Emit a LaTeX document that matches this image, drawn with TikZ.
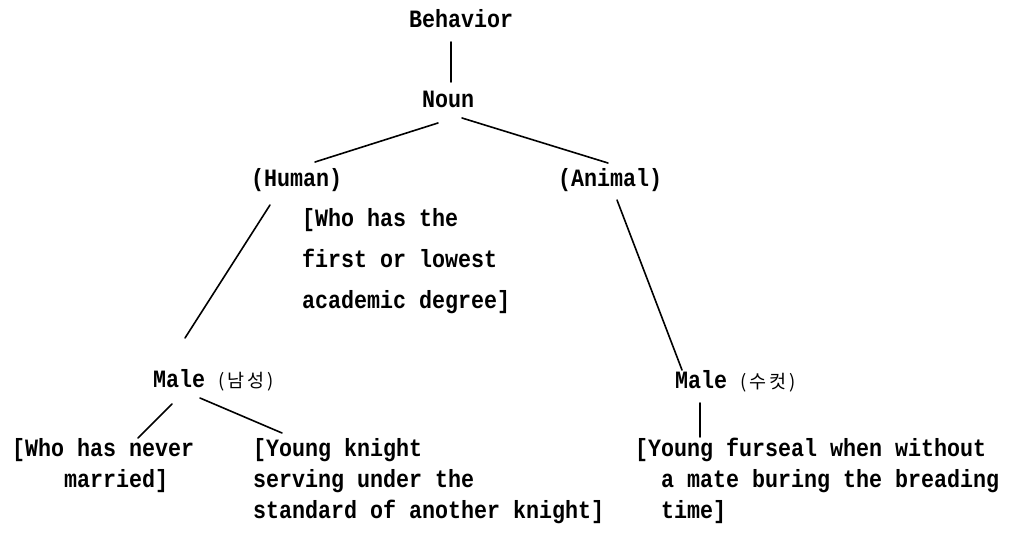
\documentclass[tikz,border=0pt]{standalone}
\usepackage{fontspec}
\newfontfamily\tw{Liberation Mono}[FakeStretch=0.87,BoldFont={Liberation Mono Bold}]
\newfontfamily\kr{Noto Sans CJK KR}
\begin{document}
\begin{tikzpicture}[x=1pt,y=-1pt,
  lbl/.style={inner sep=0pt,anchor=base west,align=left,font=\tw\bfseries\fontsize{24.9}{31}\selectfont},
  wide/.style={font=\tw\bfseries\fontsize{24.9}{41}\selectfont},
  edge/.style={line width=1.6pt,line cap=round}]
\useasboundingbox (0,0) rectangle (1015,557);
\newcommand\hg[1]{{\kr\mdseries\fontsize{18.5}{18.5}\selectfont(\,#1\,)}}
\node[lbl] (behavior) at (409,27) {Behavior};
\node[lbl] (noun) at (422,107) {Noun};
\node[lbl] (human) at (251,186) {(Human)};
\node[lbl] (animal) at (558,186) {(Animal)};
\node[lbl,wide] (degree) at (302,308) {[Who has the\\first or lowest\\academic degree]};
\node[lbl] (maleL) at (153,387) {Male \hg{남\,성}};
\node[lbl] (maleR) at (675,388) {Male \hg{수\,컷}};
\node[lbl] (never) at (12,487) {[Who has never\\\phantom{xxxx}married]};
\node[lbl] (knight) at (253,518) {[Young knight\\serving under the\\standard of another knight]};
\node[lbl] (seal) at (635,518) {[Young furseal when without\\\phantom{xx}a mate buring the breading\\\phantom{xx}time]};
% connector end points
\coordinate (b1) at (451,42); \coordinate (n0) at (451,82);
\coordinate (n1) at (438,123); \coordinate (h0) at (315,162);
\coordinate (n2) at (462,118); \coordinate (a0) at (608,163);
\coordinate (h1) at (270,205); \coordinate (ml0) at (185,338);
\coordinate (a1) at (617,200); \coordinate (mr0) at (682,370);
\coordinate (ml1) at (172,404); \coordinate (nv0) at (138,438);
\coordinate (ml2) at (200,398); \coordinate (kn0) at (282,433);
\coordinate (mr1) at (700,403); \coordinate (se0) at (700,437);
\draw[edge] (b1) -- (n0);
\draw[edge] (n1) -- (h0);
\draw[edge] (n2) -- (a0);
\draw[edge] (h1) -- (ml0);
\draw[edge] (a1) -- (mr0);
\draw[edge] (ml1) -- (nv0);
\draw[edge] (ml2) -- (kn0);
\draw[edge] (mr1) -- (se0);
\end{tikzpicture}
\end{document}
